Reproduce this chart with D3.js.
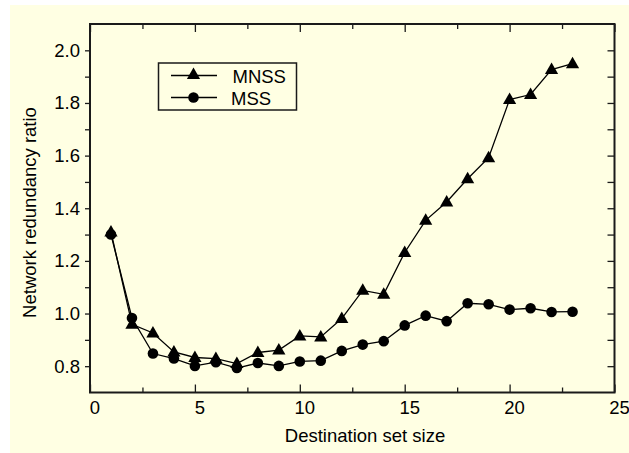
<!DOCTYPE html>
<html>
<head>
<meta charset="utf-8">
<script src="https://cdn.jsdelivr.net/npm/d3@7"></script>
<style>
  html, body { margin: 0; padding: 0; background: #ffffff; }
  svg { display: block; }
  text { font-family: "Liberation Sans", Arial, sans-serif; fill: #000; }
</style>
</head>
<body>
<svg id="chart" width="629" height="453"></svg>
<script>
const sizes = [1,2,3,4,5,6,7,8,9,10,11,12,13,14,15,16,17,18,19,20,21,22,23];
const mnss = [1.31,0.959,0.926,0.854,0.833,0.829,0.810,0.852,0.861,0.915,0.911,0.981,1.088,1.073,1.232,1.354,1.424,1.512,1.592,1.813,1.832,1.927,1.949];
const mss  = [1.300,0.983,0.848,0.829,0.801,0.815,0.793,0.812,0.801,0.818,0.821,0.858,0.882,0.895,0.955,0.992,0.971,1.039,1.035,1.015,1.020,1.006,1.007];
const seriesNames = ["MNSS", "MSS"];
const xMajorTicks = [0,5,10,15,20,25];
const xMinorTicks = [2.5,7.5,12.5,17.5,22.5];
const yLabelTicks = [0.8,1.0,1.2,1.4,1.6,1.8,2.0];
const yAllTicks = [0.8,0.9,1.0,1.1,1.2,1.3,1.4,1.5,1.6,1.7,1.8,1.9,2.0];
const xTitle = "Destination set size";
const yTitle = "Network redundancy ratio";

const svg = d3.select("#chart");
const L = 90, R = 614.5, T = 24, B = 392.5;
const bg = "#ffffe3";
const ink = "#1a1a1a";
const FS = 18.5;

svg.append("rect").attr("x", 10).attr("y", 5).attr("width", 619).attr("height", 448).attr("fill", bg);

const x = d3.scaleLinear().domain([0, 25]).range([L, R]);
const y = d3.scaleLinear().domain([0.7, 2.1]).range([B, T]);

function styleAxis(g) {
  g.select(".domain").remove();
  g.selectAll(".tick line").attr("stroke", ink).attr("stroke-width", 1.3);
  g.selectAll(".tick text").attr("font-size", FS).attr("font-family", "Liberation Sans, Arial, sans-serif").attr("fill", "#000");
}

// bottom axis (labels + major ticks inward)
svg.append("g").attr("transform", `translate(0,${B})`)
  .call(d3.axisBottom(x).tickValues(xMajorTicks).tickSize(-8).tickSizeOuter(0).tickPadding(8).tickFormat(d3.format("d")))
  .call(styleAxis)
  .call(g => g.selectAll(".tick text").attr("dx", 4.5));
svg.append("g").attr("transform", `translate(0,${B})`)
  .call(d3.axisBottom(x).tickValues(xMinorTicks).tickSize(-5).tickSizeOuter(0).tickFormat(""))
  .call(styleAxis);
// top axis
svg.append("g").attr("transform", `translate(0,${T})`)
  .call(d3.axisTop(x).tickValues(xMajorTicks).tickSize(-8).tickSizeOuter(0).tickFormat(""))
  .call(styleAxis);
svg.append("g").attr("transform", `translate(0,${T})`)
  .call(d3.axisTop(x).tickValues(xMinorTicks).tickSize(-5).tickSizeOuter(0).tickFormat(""))
  .call(styleAxis);
// left axis: ticks outward
svg.append("g").attr("transform", `translate(${L},0)`)
  .call(d3.axisLeft(y).tickValues(yAllTicks).tickSize(5).tickSizeOuter(0).tickFormat(""))
  .call(styleAxis);
svg.append("g").attr("transform", `translate(${L},0)`)
  .call(d3.axisLeft(y).tickValues(yLabelTicks).tickSize(0).tickSizeOuter(0).tickPadding(10).tickFormat(d3.format(".1f")))
  .call(styleAxis);
// right axis: ticks inward
svg.append("g").attr("transform", `translate(${R},0)`)
  .call(d3.axisRight(y).tickValues(yAllTicks).tickSize(-7).tickSizeOuter(0).tickFormat(""))
  .call(styleAxis);

// frame
svg.append("rect").attr("x", L).attr("y", T).attr("width", R - L).attr("height", B - T)
  .attr("fill", "none").attr("stroke", ink).attr("stroke-width", 2);

// titles
svg.append("text").attr("x", 365).attr("y", 442).attr("text-anchor", "middle")
  .attr("font-size", FS).text(xTitle);
svg.append("text").attr("transform", `translate(35.5,212.5) rotate(-90)`).attr("text-anchor", "middle")
  .attr("font-size", FS).text(yTitle);

const tri = "M0,-7L6.6,4.5L-6.6,4.5Z";
const line = d3.line().x((d, i) => x(sizes[i])).y(d => y(d));

const gData = svg.append("g");
gData.append("path").datum(mss).attr("d", line).attr("fill", "none").attr("stroke", "#000").attr("stroke-width", 1.3);
gData.append("path").datum(mnss).attr("d", line).attr("fill", "none").attr("stroke", "#000").attr("stroke-width", 1.3);
gData.selectAll("circle.mss").data(mss).enter().append("circle")
  .attr("cx", (d, i) => x(sizes[i])).attr("cy", d => y(d)).attr("r", 5.3).attr("fill", "#000");
gData.selectAll("path.mnss").data(mnss).enter().append("path").attr("class", "mnss")
  .attr("transform", (d, i) => `translate(${x(sizes[i])},${y(d)})`).attr("d", tri).attr("fill", "#000");

// legend
const lg = svg.append("g");
lg.append("rect").attr("x", 158.5).attr("y", 63).attr("width", 138).attr("height", 47)
  .attr("fill", "none").attr("stroke", ink).attr("stroke-width", 1.5);
const rows = [75.5, 97.5];
seriesNames.forEach((name, i) => {
  const yy = rows[i];
  lg.append("line").attr("x1", 171).attr("x2", 217).attr("y1", yy).attr("y2", yy).attr("stroke", "#000").attr("stroke-width", 1.3);
  if (i === 0) {
    lg.append("path").attr("transform", `translate(193.5,${yy - 1})`).attr("d", tri).attr("fill", "#000");
  } else {
    lg.append("circle").attr("cx", 193.5).attr("cy", yy).attr("r", 5.3).attr("fill", "#000");
  }
  lg.append("text").attr("x", i === 0 ? 232.5 : 231).attr("y", yy + 7.5).attr("font-size", FS).text(name);
});
</script>
</body>
</html>
